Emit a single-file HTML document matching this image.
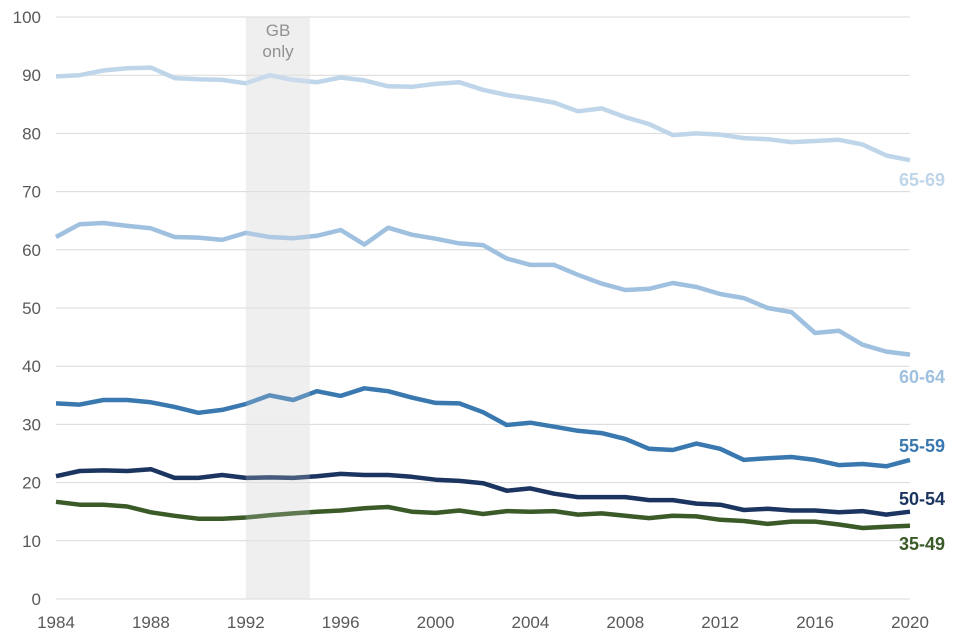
<!DOCTYPE html>
<html><head><meta charset="utf-8"><style>
body{margin:0;background:#fff}
svg{display:block;font-family:"Liberation Sans",Arial,sans-serif}
</style></head><body>
<svg id="chart" width="960" height="640" viewBox="0 0 960 640"></svg>
<script>
const years = Array.from({length:37},(_,i)=>1984+i);
const yTicks = [0,10,20,30,40,50,60,70,80,90,100];
const xTicks = [1984,1988,1992,1996,2000,2004,2008,2012,2016,2020];
const seriesNames = ["65-69","60-64","55-59","50-54","35-49"];
const s6569 = [89.8,90,90.8,91.2,91.3,89.5,89.3,89.2,88.6,90.0,89.2,88.8,89.6,89.1,88.1,88.0,88.5,88.8,87.5,86.6,86.0,85.3,83.8,84.3,82.8,81.6,79.7,80.0,79.8,79.2,79.0,78.5,78.7,78.9,78.1,76.2,75.4];
const s6064 = [62.2,64.4,64.6,64.1,63.7,62.2,62.1,61.7,62.9,62.2,62.0,62.4,63.4,60.9,63.8,62.6,61.9,61.1,60.8,58.5,57.4,57.4,55.7,54.2,53.1,53.3,54.3,53.6,52.4,51.7,50.0,49.3,45.7,46.1,43.7,42.5,42.0];
const s5559 = [33.6,33.4,34.2,34.2,33.8,33.0,32.0,32.5,33.5,35.0,34.2,35.7,34.9,36.2,35.7,34.6,33.7,33.6,32.1,29.9,30.3,29.6,28.9,28.5,27.5,25.8,25.6,26.7,25.8,23.9,24.2,24.4,23.9,23.0,23.2,22.8,23.9];
const s5054 = [21.1,22.0,22.1,22.0,22.3,20.8,20.8,21.3,20.8,20.9,20.8,21.1,21.5,21.3,21.3,21.0,20.5,20.3,19.9,18.6,19.0,18.1,17.5,17.5,17.5,17.0,17.0,16.4,16.2,15.3,15.5,15.2,15.2,14.9,15.1,14.5,15.0];
const s3549 = [16.7,16.2,16.2,15.9,14.9,14.3,13.8,13.8,14.0,14.4,14.7,15.0,15.2,15.6,15.8,15.0,14.8,15.2,14.6,15.1,15.0,15.1,14.5,14.7,14.3,13.9,14.3,14.2,13.6,13.4,12.9,13.3,13.3,12.8,12.2,12.4,12.6];
const shadeStart = 1992, shadeEnd = 1994.7;

const NS="http://www.w3.org/2000/svg";
const svg=document.getElementById('chart');
const X=y=>56+(y-1984)*(910-56)/36;
const Y=v=>599-v*(599-17)/100;
function mk(tag,attrs){const e=document.createElementNS(NS,tag);for(const k in attrs)e.setAttribute(k,attrs[k]);svg.appendChild(e);return e;}

const sh=mk('rect',{x:X(shadeStart),y:17,width:X(shadeEnd)-X(shadeStart),height:582,fill:'#efefef'});


yTicks.forEach(t=>{
  const g=mk('line',{x1:56,x2:910,y1:Y(t),y2:Y(t),stroke:'#d9d9d9','stroke-width':1});
  
  
  const l=mk('text',{x:41,y:Y(t)+6,'text-anchor':'end','font-size':17,fill:'#595959'});
  l.textContent=t;
  
  
});
xTicks.forEach(t=>{
  const l=mk('text',{x:X(t),y:628,'text-anchor':'middle','font-size':17,fill:'#595959'});
  l.textContent=t;
  
  
});
const t1=mk('text',{x:278,y:36,'text-anchor':'middle','font-size':17,fill:'#7a7a7a'});t1.textContent='GB';


const t2=mk('text',{x:278,y:57,'text-anchor':'middle','font-size':17,fill:'#7a7a7a'});t2.textContent='only';



const allSeries=[s6569,s6064,s5559,s5054,s3549];
const colors=['#bfd5ea','#9fc0df','#3a78b0','#1b3560','#3a5a28'];
const labelY=[186,383,452,505,550];
allSeries.forEach((s,i)=>{
  const d=s.map((v,j)=>(j?'L':'M')+X(years[j]).toFixed(1)+','+Y(v).toFixed(1)).join(' ');
  const p=mk('path',{d:d,fill:'none',stroke:colors[i],'stroke-width':4.5,'stroke-linejoin':'round'});
  
  
  const l=mk('text',{x:945,y:labelY[i],'text-anchor':'end','font-size':18,'font-weight':'bold',fill:colors[i]});
  l.textContent=seriesNames[i];
  
  
});
const ov=mk('rect',{x:X(shadeStart),y:17,width:X(shadeEnd)-X(shadeStart),height:582,fill:'#efefef','fill-opacity':0.2});


</script>
</body></html>
